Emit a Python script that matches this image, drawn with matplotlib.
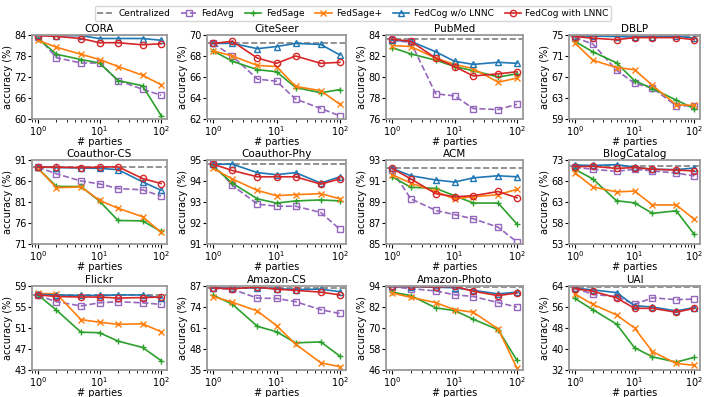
import numpy as np
import matplotlib
matplotlib.use("Agg")
import matplotlib.pyplot as plt

parties = [1, 2, 5, 10, 20, 50, 100]

datasets = ["CORA", "CiteSeer", "PubMed", "DBLP",
            "Coauthor-CS", "Coauthor-Phy", "ACM", "BlogCatalog",
            "Flickr", "Amazon-CS", "Amazon-Photo", "UAI"]

centralized = [83.9, 69.2, 83.6, 74.8, 89.3, 94.8, 92.2, 71.5, 57.2, 85.6, 93.6, 63.5]

fedavg = [
    [83.5, 77.5, 76.0, 76.0, 71.0, 68.5, 66.8],
    [69.2, 68.0, 65.8, 65.6, 63.9, 63.0, 62.3],
    [83.5, 83.3, 78.4, 78.2, 77.0, 76.9, 77.4],
    [74.5, 73.3, 68.3, 65.8, 64.9, 61.5, 61.5],
    [89.3, 87.7, 86.0, 85.3, 84.2, 83.9, 82.4],
    [94.8, 93.8, 92.9, 92.8, 92.8, 92.5, 91.7],
    [92.0, 89.3, 88.2, 87.8, 87.4, 86.6, 85.2],
    [71.3, 70.8, 70.3, 70.8, 70.4, 69.9, 69.2],
    [57.2, 56.0, 55.2, 55.8, 56.0, 55.8, 55.5],
    [85.5, 85.0, 79.5, 79.3, 77.3, 72.3, 70.0],
    [93.5, 92.5, 91.2, 89.0, 88.0, 84.5, 82.0],
    [63.2, 60.8, 60.0, 57.0, 59.5, 58.8, 59.0],
]
fedsage = [
    [83.0, 78.5, 77.0, 76.0, 71.0, 69.5, 61.0],
    [68.5, 67.5, 66.7, 66.5, 65.0, 64.5, 64.8],
    [82.8, 82.2, 81.6, 81.0, 80.6, 80.0, 80.3],
    [73.8, 71.8, 69.7, 66.3, 64.8, 62.6, 61.0],
    [89.0, 84.7, 84.7, 81.2, 76.6, 76.5, 74.0],
    [94.7, 93.9, 93.15, 92.95, 93.05, 93.1, 93.05],
    [91.4, 90.4, 90.3, 89.6, 88.9, 88.9, 86.9],
    [70.8, 68.5, 63.3, 62.8, 60.3, 60.9, 55.3],
    [57.3, 54.4, 50.2, 50.1, 48.5, 47.3, 44.8],
    [81.3, 75.8, 62.0, 58.7, 51.8, 52.4, 43.6],
    [90.5, 88.5, 81.5, 80.0, 75.0, 69.0, 51.5],
    [59.3, 55.0, 49.5, 40.5, 37.0, 35.0, 36.8],
]
fedsage_plus = [
    [82.5, 80.5, 78.5, 77.0, 75.0, 72.5, 69.8],
    [68.5, 68.0, 67.1, 67.0, 65.1, 64.7, 63.4],
    [83.0, 82.9, 81.8, 81.2, 80.8, 79.5, 79.9],
    [73.5, 70.2, 68.8, 68.4, 65.4, 61.7, 61.6],
    [89.0, 84.4, 84.6, 81.4, 79.5, 77.5, 73.8],
    [94.6, 94.1, 93.55, 93.3, 93.35, 93.4, 93.15],
    [91.6, 90.8, 90.0, 89.3, 89.5, 89.7, 90.2],
    [70.0, 66.6, 65.4, 65.6, 62.3, 62.3, 58.9],
    [57.6, 57.5, 52.6, 52.1, 51.7, 51.8, 50.3],
    [80.5, 77.0, 71.5, 62.5, 51.0, 39.5, 37.0],
    [90.0, 87.5, 84.5, 80.5, 79.0, 69.5, 47.0],
    [61.0, 57.0, 53.0, 48.0, 39.0, 34.5, 33.8],
]
fedcog_wo = [
    [84.0, 83.8, 83.8, 83.0, 83.0, 83.0, 82.5],
    [69.2, 69.2, 68.7, 68.9, 69.2, 69.1, 68.1],
    [83.5, 83.4, 82.4, 81.5, 81.2, 81.4, 81.3],
    [74.8, 74.8, 74.7, 74.6, 74.7, 74.8, 74.4],
    [89.3, 89.2, 89.1, 89.0, 88.7, 85.8, 83.8],
    [94.8, 94.8, 94.4, 94.3, 94.4, 93.9, 94.2],
    [92.2, 91.5, 91.1, 90.9, 91.3, 91.5, 91.4],
    [71.8, 71.7, 71.9, 71.3, 70.8, 70.7, 71.1],
    [57.4, 57.3, 57.2, 57.2, 57.3, 57.3, 56.7],
    [86.0, 85.5, 86.0, 85.3, 84.8, 85.0, 83.5],
    [93.8, 93.7, 93.3, 93.0, 91.5, 89.5, 90.5],
    [63.2, 62.5, 61.5, 56.5, 56.0, 54.5, 55.8],
]
fedcog_with = [
    [83.8, 83.6, 83.0, 81.8, 81.8, 81.2, 81.5],
    [69.2, 69.4, 67.8, 67.3, 68.0, 67.3, 67.4],
    [83.6, 83.4, 81.8, 81.0, 80.1, 80.3, 80.5],
    [74.7, 74.4, 74.1, 74.5, 74.5, 74.5, 74.1],
    [89.3, 89.3, 89.2, 89.3, 89.4, 86.6, 85.4],
    [94.8, 94.5, 94.2, 94.2, 94.2, 93.85, 94.1],
    [92.2, 91.2, 89.8, 89.5, 89.6, 90.0, 89.4],
    [71.4, 71.5, 71.0, 71.2, 70.8, 70.6, 70.4],
    [57.3, 57.0, 56.9, 56.9, 56.7, 56.8, 56.9],
    [85.8, 85.3, 86.3, 85.0, 84.3, 83.2, 81.5],
    [93.8, 93.8, 93.5, 93.8, 91.0, 88.5, 90.0],
    [63.0, 62.0, 59.5, 55.5, 55.5, 54.0, 55.5],
]

yticks = [
    [60, 66, 72, 78, 84], [62, 64, 66, 68, 70], [76, 78, 80, 82, 84], [59, 63, 67, 71, 75],
    [71, 76, 81, 86, 91], [91, 92, 93, 94, 95], [85, 87, 89, 91, 93], [53, 58, 63, 68, 73],
    [43, 47, 51, 55, 59], [35, 48, 61, 74, 87], [46, 58, 70, 82, 94], [32, 40, 48, 56, 64],
]

plt.rcParams['font.size'] = 7
plt.rcParams['mathtext.default'] = 'regular'

W, H = 706, 397
fig, axes = plt.subplots(3, 4, figsize=(W / 100, H / 100), dpi=100)

# axes boxes in pixels
col_lr = [(32, 167), (207, 346), (386, 523), (569, 700)]
row_tb = [(35, 119), (160, 244), (286, 370)]

handles = None
for i, ax in enumerate(axes.flat):
    r, c = divmod(i, 4)
    l, rr = col_lr[c]
    t, b = row_tb[r]
    ax.set_position([l / W, 1 - b / H, (rr - l) / W, (b - t) / H])

    lc = ax.axhline(centralized[i], color='gray', ls='--', lw=1.2, label='Centralized')
    la, = ax.plot(parties, fedavg[i], color='#9467bd', ls='--', marker='s', mfc='none',
                  ms=4.5, lw=1.2, label='FedAvg')
    ls_, = ax.plot(parties, fedsage[i], color='#2ca02c', marker='+', ms=4.5, lw=1.2,
                   label='FedSage')
    lp, = ax.plot(parties, fedsage_plus[i], color='#ff7f0e', marker='x', ms=4.5, lw=1.2,
                  label='FedSage+')
    lw_, = ax.plot(parties, fedcog_wo[i], color='#1f77b4', marker='^', mfc='none', ms=4.5,
                   lw=1.2, label='FedCog w/o LNNC')
    lr, = ax.plot(parties, fedcog_with[i], color='#d62728', marker='o', mfc='none', ms=4.5,
                  lw=1.2, label='FedCog with LNNC')
    handles = [lc, la, ls_, lp, lw_, lr]

    ax.set_xscale('log')
    ax.set_xlim(0.8, 125)
    ax.set_xticks([1, 10, 100])
    ax.set_ylim(yticks[i][0], yticks[i][-1])
    ax.set_yticks(yticks[i])
    ax.set_title(datasets[i], fontsize=7.5, pad=2)
    ax.set_xlabel('# parties', labelpad=-1)
    ax.set_ylabel('accuracy (%)', labelpad=1)
    ax.tick_params(labelsize=7, pad=1, length=3)
    for sp in ax.spines.values():
        sp.set_color('#999999')
        sp.set_linewidth(1.3)

fig.legend(handles, [h.get_label() for h in handles], loc='upper center',
           bbox_to_anchor=(0.5, 0.995), ncol=6, fontsize=6.5, frameon=True,
           handlelength=1.8, columnspacing=1.2, borderpad=0.3, handletextpad=0.5)

fig.savefig('out.png', dpi=100)
